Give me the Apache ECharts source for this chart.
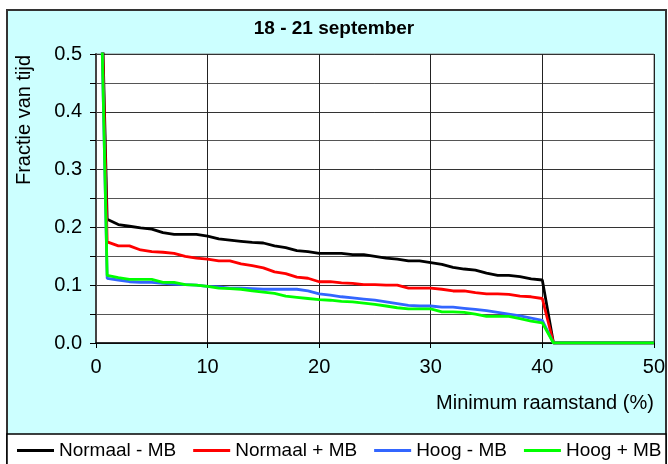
<!DOCTYPE html>
<html>
<head>
<meta charset="utf-8">
<script src="https://cdn.jsdelivr.net/npm/echarts@6/dist/echarts.min.js"></script>
<style>
html,body{margin:0;padding:0;background:#fff;}
#chart{width:668px;height:464px;}
</style>
</head>
<body>
<div id="chart"></div>
<script>
var titleText = '18 - 21 september';
var xName = 'Minimum raamstand (%)';
var yName = 'Fractie van tijd';
var seriesNames = ['Normaal - MB', 'Normaal + MB', 'Hoog - MB', 'Hoog + MB'];
var seriesColors = ['#000000', '#ff0000', '#3366ff', '#00ff00'];

var minRaamstand = [0,1,2,3,4,5,6,7,8,9,10,11,12,13,14,15,16,17,18,19,20,21,22,23,24,25,26,27,28,29,30,31,32,33,34,35,36,37,38,39,40,41,42,43,44,45,46,47,48,49,50];

var normaalMinMB = [1.0,0.214,0.205,0.202,0.199,0.197,0.191,0.188,0.188,0.188,0.185,0.180,0.178,0.176,0.174,0.173,0.168,0.165,0.160,0.158,0.155,0.155,0.155,0.153,0.153,0.150,0.147,0.145,0.142,0.142,0.139,0.136,0.131,0.128,0.126,0.121,0.117,0.117,0.115,0.111,0.109,0,0,0,0,0,0,0,0,0,0];
var normaalPlusMB = [1.0,0.175,0.168,0.168,0.161,0.158,0.157,0.155,0.150,0.147,0.145,0.142,0.142,0.137,0.134,0.130,0.123,0.120,0.114,0.112,0.106,0.106,0.104,0.103,0.101,0.101,0.100,0.100,0.095,0.095,0.095,0.093,0.090,0.090,0.087,0.085,0.085,0.084,0.081,0.080,0.077,0,0,0,0,0,0,0,0,0,0];
var hoogMinMB = [1.0,0.112,0.109,0.106,0.105,0.105,0.103,0.102,0.101,0.100,0.098,0.097,0.095,0.095,0.094,0.093,0.093,0.093,0.093,0.090,0.085,0.083,0.080,0.078,0.076,0.074,0.071,0.068,0.065,0.064,0.064,0.062,0.062,0.060,0.058,0.056,0.053,0.050,0.047,0.043,0.039,0,0,0,0,0,0,0,0,0,0];
var hoogPlusMB = [1.0,0.117,0.113,0.110,0.110,0.110,0.105,0.105,0.101,0.100,0.098,0.095,0.094,0.093,0.090,0.088,0.086,0.081,0.079,0.077,0.075,0.074,0.072,0.071,0.069,0.067,0.064,0.061,0.059,0.059,0.059,0.054,0.054,0.053,0.050,0.046,0.046,0.046,0.042,0.038,0.035,0,0,0,0,0,0,0,0,0,0];

var allValues = [normaalMinMB, normaalPlusMB, hoogMinMB, hoogPlusMB];

function pairs(vals){ return minRaamstand.map(function(x,i){ return [x, vals[i]]; }); }

var FONT = 'Liberation Sans, Arial, sans-serif';
var chart = echarts.init(document.getElementById('chart'), null, {renderer:'canvas'});
chart.setOption({
  animation: false,
  backgroundColor: '#ffffff',
  textStyle: {fontFamily: FONT},
  graphic: [
    {type:'rect', z:-10, shape:{x:7, y:10, width:659, height:460}, style:{fill:'#ccffff', stroke:'#333333', lineWidth:2}},
    {type:'rect', z:-9, shape:{x:7, y:434, width:659, height:40}, style:{fill:'#ffffff', stroke:'#000000', lineWidth:1.5}},
    {type:'text', z:5, x:24, y:120, rotation: Math.PI/2, style:{text:yName, fontSize:20, fontFamily:FONT, fill:'#000', align:'center', verticalAlign:'middle'}}
  ],
  title: {
    text: titleText, left: 'center', top: 14,
    textStyle: {fontSize: 19, fontWeight: 'bold', color: '#000', fontFamily: FONT}
  },
  legend: {
    left: 17, top: 441, width: 651, padding: 0, itemWidth: 37, itemHeight: 3, itemGap: 17, icon: 'rect',
    textStyle: {fontSize: 19, color: '#000', fontFamily: FONT},
    data: seriesNames
  },
  grid: {
    left: 96, top: 54, width: 559, height: 289, show: true,
    backgroundColor: '#ffffff', borderColor: '#888888', borderWidth: 1
  },
  xAxis: {
    type: 'value', min: 0, max: 50, interval: 10,
    name: xName, nameLocation: 'end', nameGap: 0,
    nameTextStyle: {fontSize: 20, color: '#000', align: 'right', verticalAlign: 'top', padding: [50,0,0,0], fontFamily: FONT},
    axisLine: {show: true, lineStyle: {color: '#000', width: 1.5}},
    axisTick: {show: true, length: 5, lineStyle: {color: '#000'}},
    axisLabel: {fontSize: 20, color: '#000', margin: 14, fontFamily: FONT},
    splitLine: {show: true, lineStyle: {color: '#222', width: 1}}
  },
  yAxis: {
    type: 'value', min: 0, max: 0.5, interval: 0.1,
    axisLine: {show: true, lineStyle: {color: '#444', width: 2}},
    axisTick: {show: true, length: 6, lineStyle: {color: '#000'}},
    minorTick: {show: true, splitNumber: 2, length: 6, lineStyle: {color: '#000'}},
    axisLabel: {fontSize: 20, color: '#000', margin: 14, fontFamily: FONT, formatter: function(v){ return v.toFixed(1); }},
    splitLine: {show: true, lineStyle: {color: '#333', width: 1}},
    minorSplitLine: {show: true, lineStyle: {color: '#555', width: 1}}
  },
  series: seriesNames.map(function(n, i){
    return {
      name: n, type: 'line', data: pairs(allValues[i]), showSymbol: false, symbol: 'none',
      clip: true, lineStyle: {color: seriesColors[i], width: 2.8}, itemStyle: {color: seriesColors[i]}
    };
  })
});
</script>
</body>
</html>
